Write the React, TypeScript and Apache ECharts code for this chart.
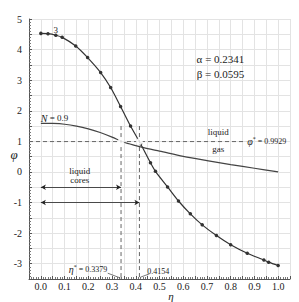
import React, { useEffect, useRef } from 'react';
import * as echarts from 'echarts';

// Curve "3" (with markers)
const etaMain = [0, 0.03, 0.063, 0.09, 0.147, 0.197, 0.252, 0.294, 0.336, 0.378, 0.42, 0.462, 0.483, 0.534, 0.58, 0.63, 0.68, 0.74, 0.8, 0.87, 0.94, 0.96, 1.0];
const phiMain = [4.53, 4.52, 4.47, 4.4, 4.12, 3.74, 3.25, 2.76, 2.14, 1.5, 0.92, 0.3, 0.02, -0.49, -0.95, -1.37, -1.73, -2.08, -2.38, -2.66, -2.88, -2.95, -3.06];
// Curve N = 0.9
const etaN = [0, 0.05, 0.1, 0.15, 0.2, 0.25, 0.3, 0.35, 0.4, 0.45, 0.5, 0.6, 0.7, 0.8, 0.9, 1.0];
const phiN = [1.59, 1.585, 1.56, 1.5, 1.41, 1.29, 1.14, 0.97, 0.86, 0.76, 0.68, 0.51, 0.37, 0.24, 0.12, 0.0];

const phiStar = 0.9929;
const etaStarGas = 0.3379;
const etaStarLiq = 0.4154;
const alphaText = 'α = 0.2341';
const betaText = 'β = 0.0595';

const xMin = -0.05, xMax = 1.05, xStep = 0.05;
const yMin = -3.5, yMax = 5, yStep = 0.5;

const FONT = 'Liberation Serif';
const INK = '#222';

export default function App() {
  const ref = useRef<HTMLDivElement>(null);
  useEffect(() => {
    document.body.style.margin = '0';
    const chart = echarts.init(ref.current!, null, { renderer: 'svg' });
    const dashed = { type: [4, 3], color: '#666', width: 1 };
    chart.setOption({
      animation: false,
      grid: { left: 29, right: 9, top: 19, bottom: 23, outerBoundsMode: 'none', containLabel: false },
      xAxis: {
        type: 'value', min: xMin, max: xMax, interval: xStep,
        axisLine: { onZero: false, lineStyle: { color: '#555' } },
        axisTick: { show: true, inside: true, length: 3, lineStyle: { color: '#555' } },
        minorTick: { show: true, splitNumber: 5, length: 2, lineStyle: { color: '#777' } },
        splitLine: { show: true, lineStyle: { color: '#e3e3e3', width: 1 } },
        axisLabel: {
          fontFamily: FONT, fontSize: 10, lineHeight: 9, color: INK, margin: 3,
          formatter: (v: number) => {
            const k = Math.round(v * 100);
            if (k < 0 || k > 100 || k % 10 !== 0) return '';
            return (k / 100).toFixed(1);
          },
        },
      },
      yAxis: {
        type: 'value', min: yMin, max: yMax, interval: yStep,
        axisLine: { show: true, onZero: false, lineStyle: { color: '#555' } },
        axisTick: { show: true, inside: true, length: 3, lineStyle: { color: '#555' } },
        minorTick: { show: true, splitNumber: 5, length: 2, lineStyle: { color: '#777' } },
        splitLine: { show: true, lineStyle: { color: '#e3e3e3', width: 1 } },
        axisLabel: {
          fontFamily: FONT, fontSize: 10, color: INK, margin: 7,
          formatter: (v: number) => (Math.abs(v - Math.round(v)) < 1e-6 ? String(Math.round(v)) : ''),
        },
      },
      series: [
        {
          type: 'line', data: [[xMin, phiStar], [0.865, phiStar]],
          symbol: 'none', lineStyle: dashed, silent: true, z: 2,
        },
        {
          type: 'line', data: [[etaStarGas, 1.5], [etaStarGas, yMin]],
          symbol: 'none', lineStyle: dashed, silent: true, z: 2,
        },
        {
          type: 'line', data: [[etaStarLiq, 1.5], [etaStarLiq, yMin]],
          symbol: 'none', lineStyle: dashed, silent: true, z: 2,
        },
        {
          type: 'line', data: etaN.map((e, i) => [e, phiN[i]]),
          smooth: 0.3, symbol: 'none', lineStyle: { color: '#444', width: 1.2 }, z: 3,
          markLine: {
            silent: true, symbol: ['arrow', 'arrow'], symbolSize: [4, 5],
            lineStyle: { type: 'solid', color: INK, width: 0.8 }, label: { show: false },
            data: [
              [{ coord: [0, -0.5] }, { coord: [etaStarGas, -0.5] }],
              [{ coord: [0, -1] }, { coord: [etaStarLiq, -1] }],
            ],
          },
        },
        {
          type: 'line', data: etaMain.map((e, i) => [e, phiMain[i]]),
          smooth: 0.3, symbol: 'circle', symbolSize: 3.5, showSymbol: true,
          itemStyle: { color: '#333' }, lineStyle: { color: '#333', width: 1.2 }, z: 4,
        },
        {
          type: 'scatter', data: [[etaStarGas, phiStar], [etaStarLiq, phiStar]],
          symbol: 'emptyCircle', symbolSize: 5,
          itemStyle: { color: '#fff', borderColor: '#777', borderWidth: 1 }, z: 5,
        },
        {
          type: 'line', data: [[0.282, -3.31], [0.336, -3.47]],
          symbol: 'none', lineStyle: { color: '#555', width: 0.8 }, silent: true,
        },
        {
          type: 'line', data: [[0.42, -3.44], [0.458, -3.33]],
          symbol: 'none', lineStyle: { color: '#555', width: 0.8 }, silent: true,
        },
      ],
    });
    const p = (x: number, y: number) => chart.convertToPixel({ gridIndex: 0 }, [x, y]) as number[];
    const txtAt = (px: number, py: number, text: string, size: number, align: string, extra: any = {}) => ({
      type: 'text', x: px, y: py, silent: true, z: 10,
      style: {
        text, fontFamily: FONT, fontSize: size, fill: INK,
        align, verticalAlign: 'middle', ...extra,
      },
    });
    const txt = (x: number, y: number, text: string, size: number, align: string, extra: any = {}) => {
      const [px, py] = p(x, y);
      return txtAt(px, py, text, size, align, extra);
    };
    const rich = {
      i: { fontFamily: FONT, fontStyle: 'italic', fontSize: 10, fill: INK },
      s: { fontFamily: FONT, fontSize: 6, fill: INK, verticalAlign: 'top', padding: [0, 0, 5, 0] },
      n: { fontFamily: FONT, fontSize: 8, fill: INK },
    };
    chart.setOption({
      graphic: [
        txtAt(14, 154, 'φ', 13, 'center', { fontStyle: 'italic' }),
        txtAt(171, 301, 'η', 11, 'center', { fontStyle: 'italic', verticalAlign: 'bottom' }),
        txt(0.063, 4.64, '3', 9, 'center'),
        txt(0, 1.75, '', 9, 'left', { text: '{i|N}{n| = 0.9}', rich: { ...rich, n: { ...rich.n, fontSize: 9 } } }),
        txt(0.757, 3.7, alphaText, 11, 'center'),
        txt(0.757, 3.21, betaText, 11, 'center'),
        txt(0.748, 1.3, 'liquid', 9, 'center'),
        txt(0.748, 0.75, 'gas', 9, 'center'),
        txt(0.87, 1.0, '', 8, 'left', { text: '{i|φ}{s|*}{n| = 0.9929}', rich }),
        txt(0.164, -0.1, 'liquid\ncores', 9, 'center', { lineHeight: 9 }),
        txt(0.28, -3.18, '', 8, 'right', { text: '{i|η}{s|*}{n| = 0.3379}', rich }),
        txt(0.448, -3.24, '0.4154', 8, 'left'),
      ],
    });
    return () => chart.dispose();
  }, []);
  return <div ref={ref} style={{ width: 299, height: 302, position: 'absolute', left: 0, top: 0 }} />;
}
